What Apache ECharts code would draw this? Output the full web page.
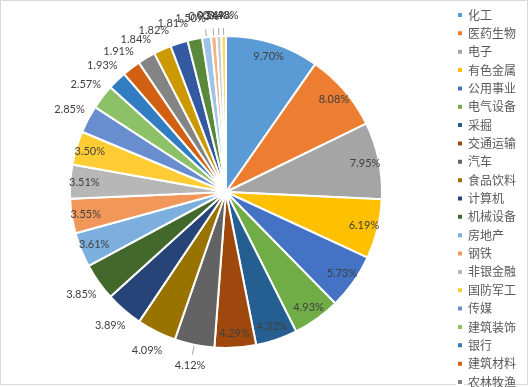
<!DOCTYPE html>
<html><head><meta charset="utf-8">
<script src="https://cdn.jsdelivr.net/npm/echarts@6/dist/echarts.min.js"></script>
<style>html,body{margin:0;padding:0;background:#fff}#c{width:529px;height:387px}</style>
</head><body><div id="c"></div>
<script>
var categories = ['化工','医药生物','电子','有色金属','公用事业','电气设备','采掘','交通运输','汽车','食品饮料','计算机','机械设备','房地产','钢铁','非银金融','国防军工','传媒','建筑装饰','银行','建筑材料','农林牧渔','商业贸易','轻工制造','通信','家用电器','纺织服装','休闲服务','综合'];
var values = [9.70,8.08,7.95,6.19,5.73,4.93,4.32,4.29,4.12,4.09,3.89,3.85,3.61,3.55,3.51,3.50,2.85,2.57,1.93,1.91,1.84,1.82,1.81,1.50,0.93,0.56,0.49,0.48];
var legendNames = categories.slice(0, 21);
var colors = ['#5B9BD5','#ED7D31','#A5A5A5','#FFC000','#4472C4','#70AD47',
  '#255E91','#9E480E','#636363','#997300','#264478','#43682B',
  '#7CAFDD','#F1975A','#B7B7B7','#FFCD33','#698ED0','#8CC168',
  '#327DC2','#D26012','#848484','#CC9A00','#335AA1','#5A8A39',
  '#9DC3E6','#F4B183','#C9C9C9','#FFD966'];
var insideIdx = [0,1,2,3,4,5,6,7,12,13,14,15];
var leaderIdx = [8,24,25,26,27];

var C = [226, 192], R = 156;
var labelFont = {fontFamily: 'Lato', fontSize: 11, color: '#404040'};
function fmt(p){ return p.value.toFixed(2) + '%'; }

var mainData = values.map(function(v,i){
  var d = {name: categories[i], value: v, itemStyle: {color: colors[i]}};
  if (leaderIdx.indexOf(i) >= 0) {
    d.label = {show: true, formatter: ' ', position: 'outside'};
    d.labelLine = {show: true, length: i === 8 ? 10 : 8, length2: 0, lineStyle: {color: '#A6A6A6', width: 1}};
  }
  return d;
});
function ringData(inside){
  return values.map(function(v,i){
    var isIn = insideIdx.indexOf(i) >= 0;
    return {name: categories[i], value: v, label: {show: inside ? isIn : !isIn}};
  });
}

var option = {
  animation: false,
  backgroundColor: '#fff',
  color: colors,
  legend: {
    data: legendNames,
    orient: 'vertical',
    left: 451, top: 4, height: 420,
    icon: 'rect', itemWidth: 6, itemHeight: 6, itemGap: 6.35,
    textStyle: {fontFamily: 'Noto Sans CJK SC', fontSize: 12, color: '#595959', lineHeight: 12}
  },
  graphic: [{type: 'rect', shape: {x: 0.5, y: 0.5, width: 527, height: 384}, style: {fill: 'none', stroke: '#D9D9D9', lineWidth: 1}, silent: true}],
  series: [
    {
      type: 'pie', center: C, radius: R, startAngle: 90, clockwise: true,
      avoidLabelOverlap: false,
      itemStyle: {borderColor: '#fff', borderWidth: 2},
      label: {show: false},
      labelLine: {show: false},
      labelLayout: {hideOverlap: false},
      emphasis: {disabled: true},
      data: mainData
    },
    {
      type: 'pie', center: C, radius: [R - 34, R], startAngle: 90, silent: true,
      avoidLabelOverlap: false,
      itemStyle: {color: 'transparent', borderWidth: 0},
      label: Object.assign({position: 'inside', formatter: fmt}, labelFont),
      labelLine: {show: false},
      labelLayout: {hideOverlap: false},
      emphasis: {disabled: true},
      data: ringData(true)
    },
    {
      type: 'pie', center: C, radius: [R, R + 36], startAngle: 90, silent: true,
      avoidLabelOverlap: false,
      itemStyle: {color: 'transparent', borderWidth: 0},
      label: Object.assign({position: 'inside', formatter: fmt}, labelFont),
      labelLine: {show: false},
      labelLayout: {hideOverlap: false},
      emphasis: {disabled: true},
      data: ringData(false)
    }
  ]
};
var chart = echarts.init(document.getElementById('c'), null, {renderer: 'canvas'});
chart.setOption(option);
</script></body></html>
